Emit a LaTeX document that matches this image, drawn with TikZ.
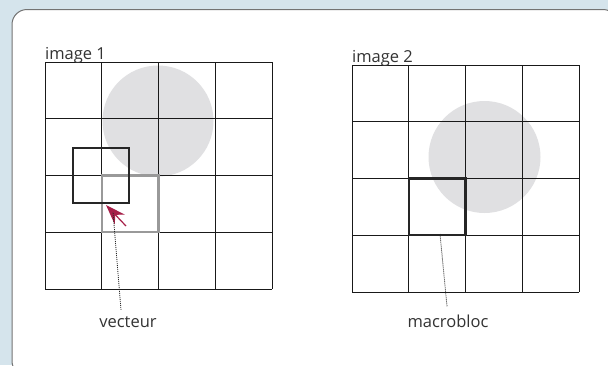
\documentclass[tikz,border=0pt]{standalone}
\usepackage{fontspec}
\setmainfont{Open Sans}
\usetikzlibrary{arrows.meta,positioning}
\definecolor{panelbg}{RGB}{213,228,236}
\definecolor{circgray}{RGB}{224,224,226}
\definecolor{vecred}{RGB}{166,31,72}
\definecolor{txtgray}{RGB}{51,51,51}
\tikzset{
  gridline/.style={line width=0.9pt, black!90},
  blockbox/.style={line width=2.4pt, black!85},
  refbox/.style={line width=2.4pt, black!40},
  leader/.style={dash pattern=on 1pt off 1pt, line width=0.8pt, black!85},
  lbl/.style={font=\fontsize{16.5}{19}\selectfont, text=txtgray, inner sep=0pt},
}

\begin{document}
\begin{tikzpicture}[x=1pt, y=-1pt]
    % fond et cadre
    \fill[panelbg] (0,0) rectangle (608,365);
    \useasboundingbox (0,0) rectangle (608,365);
    \draw[black!55, line width=1pt, fill=white, rounded corners=15pt] (12,9.5) rectangle (618,376);

    % image 1
    \fill[circgray] (158,121) circle (55.5pt);
    \foreach \i in {0,...,4} {
        \draw[gridline] (45+56.75*\i,62) -- (45+56.75*\i,289);
        \draw[gridline] (45,62+56.75*\i) -- (272,62+56.75*\i);
    }
    \draw[refbox] (101.75,175.5) rectangle (158.5,232.25);
    \draw[blockbox] (73,148) rectangle (129,203);
    \node[lbl, anchor=base west] (imgA) at (45,59) {image 1};

    % image 2
    \fill[circgray] (484.5,157) circle (56pt);
    \foreach \i in {0,...,4} {
        \draw[gridline] (352+56.75*\i,65) -- (352+56.75*\i,292);
        \draw[gridline] (352,65+56.75*\i) -- (579,65+56.75*\i);
    }
    \draw[blockbox] (408.75,178.5) rectangle (465.5,235.25);
    \node[lbl, anchor=base west] (imgB) at (352,62) {image 2};

    % vecteur de mouvement
    \coordinate (vtail) at (126,226);
    \coordinate (vhead) at (106,205);
    \draw[vecred, line width=1.2pt, -{Stealth[length=20pt, width=14pt]}] (vtail) -- (vhead);

    % légendes
    \node[lbl, anchor=base] (vecteur) at (128,327) {vecteur};
    \node[lbl, anchor=base] (macrobloc) at (448,327) {macrobloc};
    \coordinate (vtip) at (113,212);
    \coordinate (mtip) at (440,234);
    \draw[leader] ([xshift=-7pt, yshift=6pt]vecteur.north) -- (vtip);
    \draw[leader] ([xshift=-1pt, yshift=8pt]macrobloc.north) -- (mtip);
\end{tikzpicture}
\end{document}
